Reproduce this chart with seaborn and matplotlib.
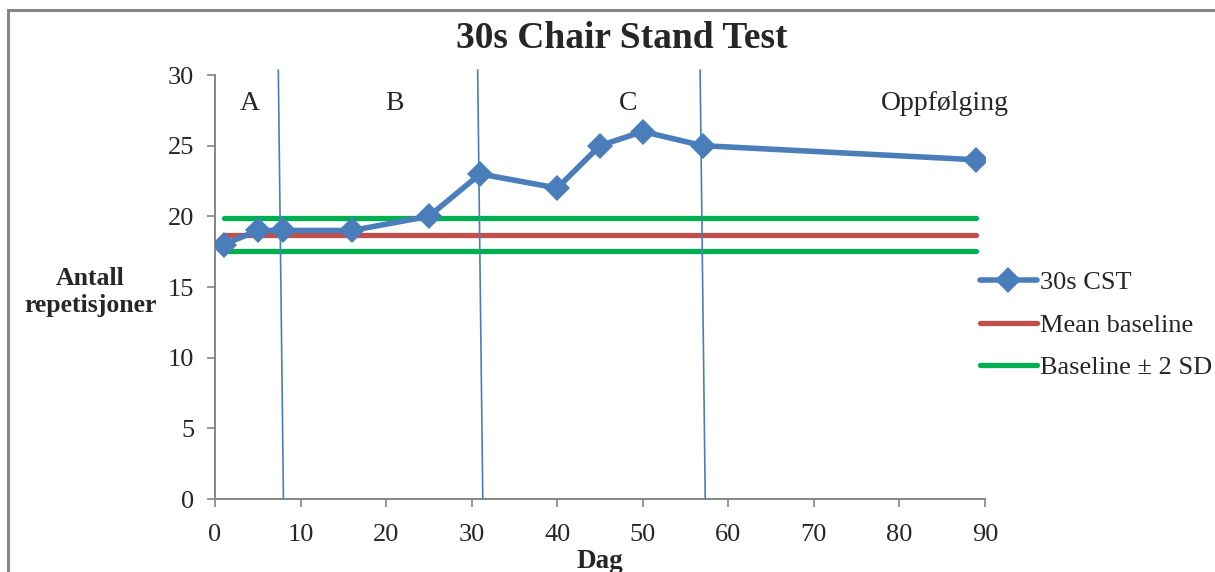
import matplotlib
matplotlib.use("Agg")
import matplotlib.pyplot as plt
import seaborn as sns
import pandas as pd
from matplotlib.patches import Rectangle

# ---- data ----
days = [1, 5, 8, 16, 25, 31, 40, 45, 50, 57, 89]
reps = [18, 19, 19, 19, 20, 23, 22, 25, 26, 25, 24]
baseline_span = [1, 89]
mean_baseline = 18.7
upper_2sd = 19.85
lower_2sd = 17.55
phase_top_x = [7.4, 30.7, 56.7]
phase_bottom_x = [8.0, 31.3, 57.3]
phase_y = [30.35, 0.0]
phase_labels = ["A", "B", "C", "Oppfølging"]
phase_label_x = [4.1, 21.0, 48.3, 85.3]
phase_label_y = 28.0
x_ticks = [0, 10, 20, 30, 40, 50, 60, 70, 80, 90]
y_ticks = [0, 5, 10, 15, 20, 25, 30]

sns.set_theme(style="white")
plt.rcParams["font.family"] = ["Liberation Serif", "DejaVu Serif"]

BLUE = "#4A7EBB"
RED = "#C0504D"
GREEN = "#00B050"
GRAY = "#868686"

fig = plt.figure(figsize=(12.15, 5.72), dpi=100)
ax = fig.add_axes([215 / 1215, 1 - 499 / 572, 770 / 1215, 424 / 572])

df = pd.DataFrame({"Dag": days, "reps": reps})
sns.lineplot(data=df, x="Dag", y="reps", ax=ax, color=BLUE, linewidth=4.0,
             marker="D", markersize=13, markeredgewidth=0, label="30s CST", zorder=4)

base = pd.DataFrame({"x": baseline_span,
                     "mean": [mean_baseline] * 2,
                     "up": [upper_2sd] * 2,
                     "lo": [lower_2sd] * 2})
sns.lineplot(data=base, x="x", y="mean", ax=ax, color=RED, linewidth=3.8,
             label="Mean baseline", zorder=2, solid_capstyle="round")
sns.lineplot(data=base, x="x", y="up", ax=ax, color=GREEN, linewidth=3.8,
             label="Baseline ± 2 SD", zorder=2, solid_capstyle="round")
sns.lineplot(data=base, x="x", y="lo", ax=ax, color=GREEN, linewidth=3.8,
             zorder=2, solid_capstyle="round")

for xt, xb in zip(phase_top_x, phase_bottom_x):
    ax.plot([xt, xb], phase_y, color=BLUE, linewidth=1.2, clip_on=False, zorder=5)

for lab, lx in zip(phase_labels, phase_label_x):
    ax.text(lx, phase_label_y, lab, ha="center", va="center", fontsize=20)

ax.set_xlim(0, 90)
ax.set_ylim(0, 30)
ax.set_xticks(x_ticks)
ax.set_yticks(y_ticks)
ax.tick_params(axis="both", labelsize=19, length=6, width=1.2, color=GRAY,
               direction="out", left=True, bottom=True)
ax.tick_params(axis="x", pad=12)
ax.tick_params(axis="y", pad=9)
for s in ["top", "right"]:
    ax.spines[s].set_visible(False)
for s in ["left", "bottom"]:
    ax.spines[s].set_color(GRAY)
    ax.spines[s].set_linewidth(1.4)

ax.set_xlabel("Dag", fontsize=19.5, fontweight="bold", labelpad=2)
ax.set_ylabel("")
fig.text(90 / 1215, 1 - 292 / 572, "Antall\nrepetisjoner", ha="center", va="center",
         fontsize=18.5, fontweight="bold", linespacing=1.2)
fig.text(622 / 1215, 1 - 38 / 572, "30s Chair Stand Test", ha="center", va="center",
         fontsize=27, fontweight="bold")

handles, labels = ax.get_legend_handles_labels()
ax.legend(handles, labels, loc="center left", bbox_to_anchor=(980 / 1215, 1 - 325 / 572),
          bbox_transform=fig.transFigure, frameon=False, fontsize=19,
          handlelength=2.15, handletextpad=0.12, labelspacing=0.72, borderpad=0,
          borderaxespad=0)

fig.patches.append(Rectangle((8 / 1215, -0.1), 1.2, 1 - 9.5 / 572 + 0.1,
                             transform=fig.transFigure, fill=False,
                             edgecolor=GRAY, linewidth=2.2))

fig.savefig("out.png", dpi=100)
